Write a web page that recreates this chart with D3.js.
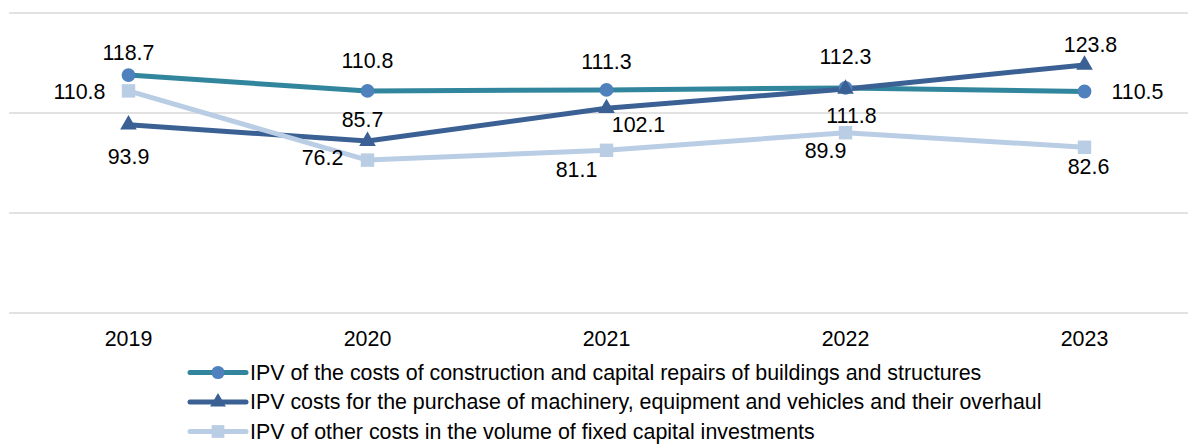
<!DOCTYPE html>
<html>
<head>
<meta charset="utf-8">
<script src="https://cdn.jsdelivr.net/npm/d3@7"></script>
<style>
  body { margin: 0; background: #fff; }
  svg text { font-family: "Liberation Sans", Arial, sans-serif; fill: #000; }
</style>
</head>
<body>
<div id="chart"></div>
<script>
// chart values
var years = ["2019", "2020", "2021", "2022", "2023"];
var construction = [118.7, 110.8, 111.3, 112.3, 110.5];
var machinery = [93.9, 85.7, 102.1, 111.8, 123.8];
var otherCosts = [110.8, 76.2, 81.1, 89.9, 82.6];
var yTicks = [0, 50, 100, 150];
var seriesNames = [
  "IPV of the costs of construction and capital repairs of buildings and structures",
  "IPV costs for the purchase of machinery, equipment and vehicles and their overhaul",
  "IPV of other costs in the volume of fixed capital investments"
];

// where each data label sits relative to its point (dx, dy)
var labelOffsets = [
  [[0, -22], [0, -30], [0, -28], [0, -31], [53, 0]],
  [[0, 32], [-5, -21], [32, 17], [6, 27], [6, -20]],
  [[-49, 1], [-45, -2], [-30, 20], [-20, 18], [4, 20]]
];

w = 1188
h = 445
var fontSize = 21.4

var svg = d3.select("#chart")
    .append("svg")
    .attr("width", w)
    .attr("height", h)
    .style("background-color", "white");

var x = d3.scaleBand().domain(years).range([9, 1204]).paddingInner(0).paddingOuter(0);
var y = d3.scaleLinear().domain([0, 150]).range([312.5, 12.5]);

// gridlines
svg.append("g")
    .attr("transform", "translate(9,0)")
    .call(d3.axisLeft(y).tickValues(yTicks).tickSize(-(w - 9)).tickFormat(""))
    .call(function(g){
        g.select(".domain").remove();
        g.selectAll("line").attr("stroke", "#d9d9d9").attr("stroke-width", 1.5);
    });

// year labels
svg.append("g")
    .attr("transform", "translate(0," + y(0) + ")")
    .call(d3.axisBottom(x).tickSize(0).tickPadding(18))
    .call(function(g){
        g.select(".domain").remove();
        g.selectAll("text").attr("font-size", fontSize).attr("font-family", "'Liberation Sans', Arial, sans-serif").attr("fill", "#000");
    });

var series = [
  { values: construction, line: "#31859c", marker: "#4f81bd", shape: d3.symbolCircle, size: 150 },
  { values: machinery, line: "#3a6094", marker: "#3a6094", shape: d3.symbolTriangle, size: 120 },
  { values: otherCosts, line: "#b9cde5", marker: "#b9cde5", shape: d3.symbolSquare, size: 180 }
];

var line = d3.line()
    .x(function(d, i){ return x(years[i]) + x.bandwidth() / 2 })
    .y(function(d){ return y(d) });

series.forEach(function(s){
    svg.append("path")
        .attr("d", line(s.values))
        .attr("fill", "none")
        .attr("stroke", s.line)
        .attr("stroke-width", 5)
        .attr("stroke-linejoin", "round");
});

series.forEach(function(s){
    svg.selectAll(null)
        .data(s.values)
        .enter()
        .append("path")
        .attr("d", d3.symbol().type(s.shape).size(s.size))
        .attr("transform", function(d, i){
            return "translate(" + (x(years[i]) + x.bandwidth() / 2) + "," + y(d) + ")"
        })
        .attr("fill", s.marker);
});

// data labels
series.forEach(function(s, k){
    svg.selectAll(null)
        .data(s.values)
        .enter()
        .append("text")
        .attr("x", function(d, i){ return x(years[i]) + x.bandwidth() / 2 + labelOffsets[k][i][0] })
        .attr("y", function(d, i){ return y(d) + labelOffsets[k][i][1] })
        .attr("text-anchor", "middle")
        .attr("dominant-baseline", "central")
        .attr("font-size", fontSize)
        .text(function(d){ return d.toFixed(1) });
});

// legend
var legend = svg.append("g").attr("transform", "translate(190,372.5)");
series.forEach(function(s, k){
    var row = legend.append("g").attr("transform", "translate(0," + (k * 29.5) + ")");
    row.append("line")
        .attr("x1", 0).attr("x2", 56)
        .attr("stroke", s.line)
        .attr("stroke-width", 5)
        .attr("stroke-linecap", "round");
    row.append("path")
        .attr("d", d3.symbol().type(s.shape).size(s.size * 0.9))
        .attr("transform", "translate(28,0)")
        .attr("fill", s.marker);
    row.append("text")
        .attr("x", 60)
        .attr("dominant-baseline", "central")
        .attr("font-size", fontSize)
        .text(seriesNames[k]);
});
</script>
</body>
</html>
